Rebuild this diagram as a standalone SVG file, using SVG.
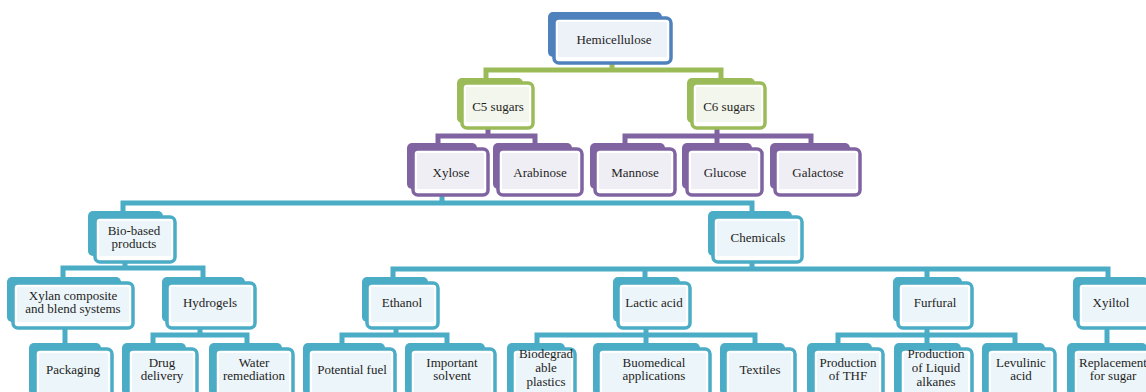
<svg xmlns="http://www.w3.org/2000/svg" width="1146" height="392" viewBox="0 0 1146 392">
<style>
text{font-family:"Liberation Serif","Times New Roman",serif;font-size:13px;fill:#1e1e1e;text-anchor:middle}
.back{stroke:none}
.front{fill:#ffffff;stroke-width:3.5}
.blue .back{fill:#4f81bd}.blue .front{stroke:#4f81bd}.blue .inner{fill:#edf1f8}
.green .back{fill:#9bbb59}.green .front{stroke:#9bbb59}.green .inner{fill:#f3f6ec}
.purple .back{fill:#8064a2}.purple .front{stroke:#8064a2}.purple .inner{fill:#f0eef5}
.teal .back{fill:#4bacc6}.teal .front{stroke:#4bacc6}.teal .inner{fill:#ecf5f9}
.c{fill:none;stroke-width:5;stroke-linejoin:miter}
.cg{stroke:#9bbb59}.cp{stroke:#8064a2}.ct{stroke:#4bacc6}
</style>
<rect width="1146" height="392" fill="#ffffff"/>
<g id="connectors">
<path class="c cg" d="M486,78 V70 H721 V78 M612,63 V70"/>
<path class="c cp" d="M438,144 V136 H535 V144 M488,128 V136"/>
<path class="c cp" d="M625,144 V136 H811 V144 M717,128 V144"/>
<path class="c ct" d="M123,212 V203 H752 V212 M442,195 V203"/>
<path class="c ct" d="M63,277 V268 H203 V277 M125,262 V268"/>
<path class="c ct" d="M393,277 V269 H1108 V277 M752,262 V269 M645,269 V277 M927,269 V277"/>
<path class="c ct" d="M65,328 V343"/>
<path class="c ct" d="M153,343 V335 H247 V343 M200,328 V335"/>
<path class="c ct" d="M342,343 V335 H447 V343 M396,328 V335"/>
<path class="c ct" d="M537,343 V335 H755 V343 M646,328 V343"/>
<path class="c ct" d="M838,343 V335 H1015 V343 M927,328 V343"/>
<path class="c ct" d="M1107,328 V343"/>
</g>
<g id="n-hemicellulose" class="blue"><rect class="back" x="548" y="12" width="114" height="45" rx="5"/><rect class="front" x="554" y="18" width="117" height="45" rx="5"/><rect class="inner" x="558" y="22" width="109" height="35"/><text x="614" y="44">Hemicellulose</text></g>
<g id="n-c5" class="green"><rect class="back" x="457" y="78" width="66" height="45" rx="5"/><rect class="front" x="462" y="83" width="71" height="45" rx="5"/><rect class="inner" x="466" y="87" width="63" height="35"/><text x="498" y="111">C5 sugars</text></g>
<g id="n-c6" class="green"><rect class="back" x="687" y="78" width="68" height="45" rx="5"/><rect class="front" x="692" y="83" width="73" height="45" rx="5"/><rect class="inner" x="696" y="87" width="65" height="35"/><text x="729" y="111">C6 sugars</text></g>
<g id="n-xylose" class="purple"><rect class="back" x="407" y="143" width="70" height="46" rx="5"/><rect class="front" x="413" y="149" width="75" height="46" rx="5"/><rect class="inner" x="417" y="153" width="67" height="36"/><text x="451" y="177">Xylose</text></g>
<g id="n-arabinose" class="purple"><rect class="back" x="493" y="143" width="79" height="46" rx="5"/><rect class="front" x="498" y="149" width="84" height="46" rx="5"/><rect class="inner" x="502" y="153" width="76" height="36"/><text x="540" y="177">Arabinose</text></g>
<g id="n-mannose" class="purple"><rect class="back" x="590" y="143" width="75" height="46" rx="5"/><rect class="front" x="595" y="149" width="80" height="46" rx="5"/><rect class="inner" x="599" y="153" width="72" height="36"/><text x="635" y="177">Mannose</text></g>
<g id="n-glucose" class="purple"><rect class="back" x="682" y="143" width="70" height="46" rx="5"/><rect class="front" x="687" y="149" width="75" height="46" rx="5"/><rect class="inner" x="691" y="153" width="67" height="36"/><text x="725" y="177">Glucose</text></g>
<g id="n-galactose" class="purple"><rect class="back" x="770" y="143" width="80" height="46" rx="5"/><rect class="front" x="775" y="149" width="85" height="46" rx="5"/><rect class="inner" x="779" y="153" width="77" height="36"/><text x="818" y="177">Galactose</text></g>
<g id="n-biobased" class="teal"><rect class="back" x="88" y="211" width="75" height="45" rx="5"/><rect class="front" x="95" y="217" width="80" height="45" rx="5"/><rect class="inner" x="99" y="221" width="72" height="35"/><text x="134" y="235">Bio-based</text><text x="134" y="248">products</text></g>
<g id="n-chemicals" class="teal"><rect class="back" x="708" y="211" width="84" height="45" rx="5"/><rect class="front" x="713" y="217" width="89" height="45" rx="5"/><rect class="inner" x="717" y="221" width="81" height="35"/><text x="758" y="242">Chemicals</text></g>
<g id="n-xylan" class="teal"><rect class="back" x="7" y="277" width="114" height="45" rx="5"/><rect class="front" x="13" y="283" width="120" height="45" rx="5"/><rect class="inner" x="17" y="287" width="112" height="35"/><text x="73" y="300">Xylan composite</text><text x="73" y="313">and blend systems</text></g>
<g id="n-hydrogels" class="teal"><rect class="back" x="162" y="277" width="83" height="45" rx="5"/><rect class="front" x="167" y="283" width="88" height="45" rx="5"/><rect class="inner" x="171" y="287" width="80" height="35"/><text x="210" y="307">Hydrogels</text></g>
<g id="n-ethanol" class="teal"><rect class="back" x="362" y="277" width="66" height="45" rx="5"/><rect class="front" x="367" y="283" width="71" height="45" rx="5"/><rect class="inner" x="371" y="287" width="63" height="35"/><text x="402" y="307">Ethanol</text></g>
<g id="n-lactic" class="teal"><rect class="back" x="613" y="277" width="67" height="45" rx="5"/><rect class="front" x="618" y="283" width="72" height="45" rx="5"/><rect class="inner" x="622" y="287" width="64" height="35"/><text x="654" y="307">Lactic acid</text></g>
<g id="n-furfural" class="teal"><rect class="back" x="893" y="277" width="69" height="45" rx="5"/><rect class="front" x="898" y="283" width="74" height="45" rx="5"/><rect class="inner" x="902" y="287" width="66" height="35"/><text x="935" y="307">Furfural</text></g>
<g id="n-xyiltol" class="teal"><rect class="back" x="1073" y="277" width="75" height="45" rx="5"/><rect class="front" x="1078" y="283" width="80" height="45" rx="5"/><rect class="inner" x="1082" y="287" width="72" height="35"/><text x="1111" y="307">Xyiltol</text></g>
<g id="n-packaging" class="teal"><rect class="back" x="29" y="343" width="72" height="52" rx="5"/><rect class="front" x="35" y="349" width="77" height="52" rx="5"/><rect class="inner" x="39" y="353" width="69" height="44"/><text x="73" y="374">Packaging</text></g>
<g id="n-drug" class="teal"><rect class="back" x="122" y="343" width="64" height="52" rx="5"/><rect class="front" x="128" y="349" width="69" height="52" rx="5"/><rect class="inner" x="132" y="353" width="61" height="44"/><text x="162" y="367">Drug</text><text x="162" y="380">delivery</text></g>
<g id="n-water" class="teal"><rect class="back" x="209" y="343" width="73" height="52" rx="5"/><rect class="front" x="215" y="349" width="78" height="52" rx="5"/><rect class="inner" x="219" y="353" width="70" height="44"/><text x="254" y="367">Water</text><text x="254" y="380">remediation</text></g>
<g id="n-fuel" class="teal"><rect class="back" x="303" y="343" width="82" height="52" rx="5"/><rect class="front" x="308" y="349" width="87" height="52" rx="5"/><rect class="inner" x="312" y="353" width="79" height="44"/><text x="352" y="374">Potential fuel</text></g>
<g id="n-solvent" class="teal"><rect class="back" x="405" y="343" width="80" height="52" rx="5"/><rect class="front" x="410" y="349" width="85" height="52" rx="5"/><rect class="inner" x="414" y="353" width="77" height="44"/><text x="452" y="367">Important</text><text x="452" y="380">solvent</text></g>
<g id="n-biodegradable" class="teal"><rect class="back" x="507" y="343" width="58" height="52" rx="5"/><rect class="front" x="512" y="349" width="63" height="52" rx="5"/><rect class="inner" x="516" y="353" width="55" height="44"/><text x="546" y="358">Biodegrad</text><text x="546" y="372">able</text><text x="546" y="386">plastics</text></g>
<g id="n-biomedical" class="teal"><rect class="back" x="593" y="343" width="107" height="52" rx="5"/><rect class="front" x="598" y="349" width="112" height="52" rx="5"/><rect class="inner" x="602" y="353" width="104" height="44"/><text x="654" y="367">Buomedical</text><text x="654" y="380">applications</text></g>
<g id="n-textiles" class="teal"><rect class="back" x="720" y="343" width="65" height="52" rx="5"/><rect class="front" x="725" y="349" width="70" height="52" rx="5"/><rect class="inner" x="729" y="353" width="62" height="44"/><text x="760" y="374">Textiles</text></g>
<g id="n-thf" class="teal"><rect class="back" x="807" y="343" width="65" height="52" rx="5"/><rect class="front" x="813" y="349" width="70" height="52" rx="5"/><rect class="inner" x="817" y="353" width="62" height="44"/><text x="848" y="367">Production</text><text x="848" y="380">of THF</text></g>
<g id="n-alkanes" class="teal"><rect class="back" x="894" y="343" width="67" height="52" rx="5"/><rect class="front" x="900" y="349" width="72" height="52" rx="5"/><rect class="inner" x="904" y="353" width="64" height="44"/><text x="936" y="358">Production</text><text x="936" y="372">of Liquid</text><text x="936" y="386">alkanes</text></g>
<g id="n-levulinic" class="teal"><rect class="back" x="982" y="343" width="63" height="52" rx="5"/><rect class="front" x="987" y="349" width="68" height="52" rx="5"/><rect class="inner" x="991" y="353" width="60" height="44"/><text x="1021" y="367">Levulinic</text><text x="1021" y="380">acid</text></g>
<g id="n-replacement" class="teal"><rect class="back" x="1067" y="343" width="80" height="52" rx="5"/><rect class="front" x="1073" y="349" width="85" height="52" rx="5"/><rect class="inner" x="1077" y="353" width="77" height="44"/><text x="1113" y="367">Replacement</text><text x="1113" y="380">for sugar</text></g>
</svg>
